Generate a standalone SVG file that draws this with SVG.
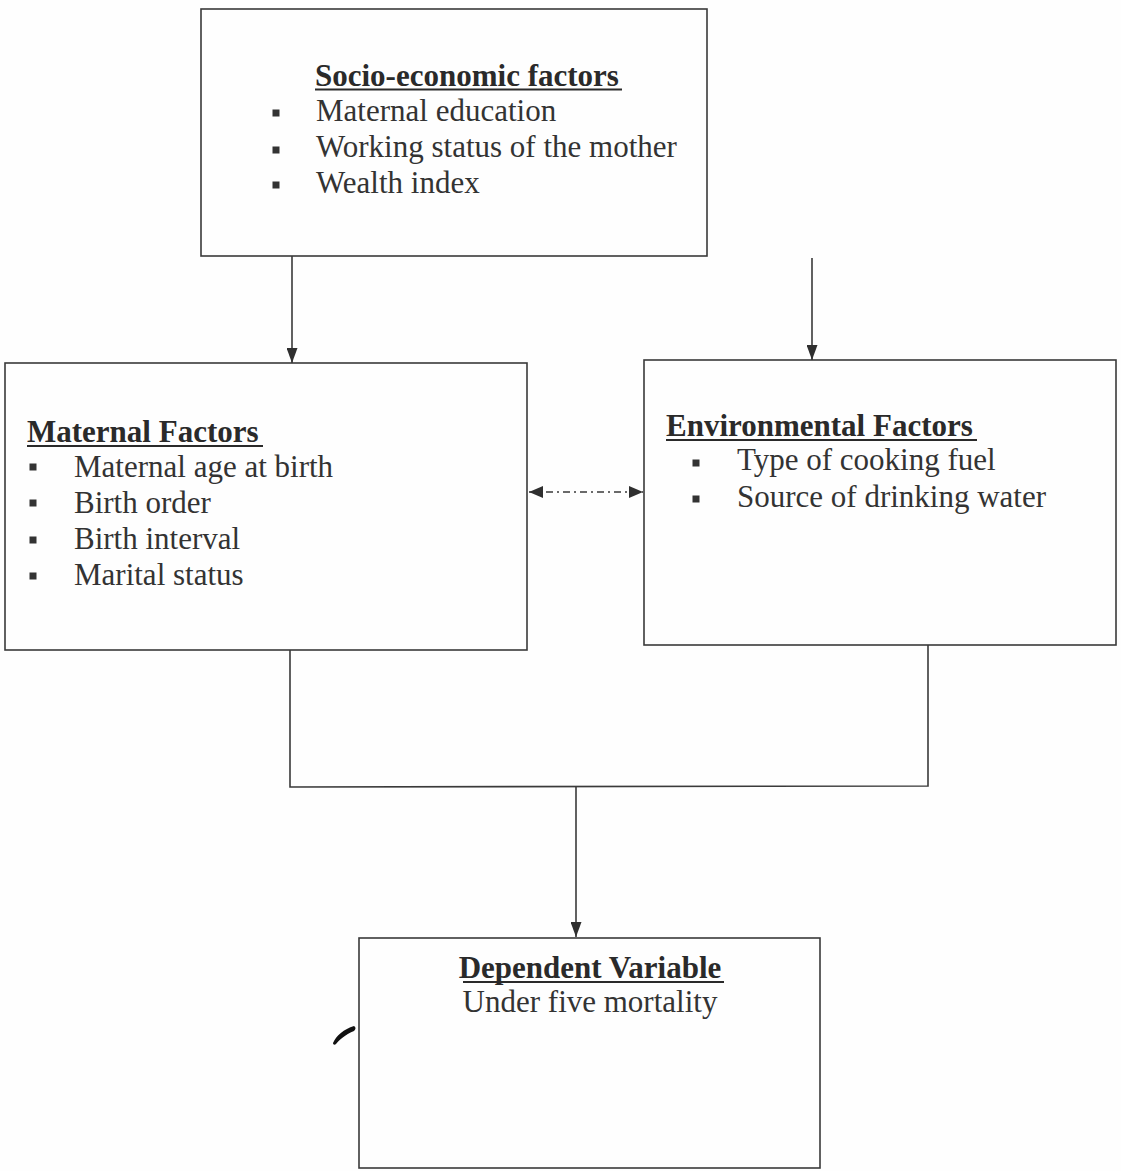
<svg xmlns="http://www.w3.org/2000/svg" width="1121" height="1171" viewBox="0 0 1121 1171">
<defs>
<style>
.box{fill:none;stroke:#3a3a3a;stroke-width:1.6}
.ln{fill:none;stroke:#3a3a3a;stroke-width:1.6}
.h{font-family:"Liberation Serif","Times New Roman",serif;font-size:31px;font-weight:bold;fill:#2a2a2a}
.t{font-family:"Liberation Serif","Times New Roman",serif;font-size:31px;fill:#333}
.ul{stroke:#2a2a2a;stroke-width:2}
.b{fill:#333}
</style>
<marker id="ad" viewBox="0 0 14 12" refX="14" refY="6" markerWidth="14" markerHeight="12" markerUnits="userSpaceOnUse" orient="auto-start-reverse">
<path d="M0,0 L14,6 L0,12 Z" fill="#2f2f2f"/>
</marker>
<marker id="av" viewBox="0 0 15 11" refX="15" refY="5.5" markerWidth="15" markerHeight="11" markerUnits="userSpaceOnUse" orient="auto">
<path d="M0,0 L15,5.5 L0,11 Z" fill="#2f2f2f"/>
</marker>
</defs>
<rect width="1121" height="1171" fill="#fefefe"/>

<g id="socio">
<rect class="box" x="201" y="9" width="506" height="247"/>
<text class="h" x="315" y="86">Socio-economic factors</text>
<line class="ul" x1="315" y1="89.5" x2="622" y2="89.5"/>
<rect class="b" x="272.5" y="109.5" width="7" height="7"/>
<rect class="b" x="272.5" y="146.5" width="7" height="7"/>
<rect class="b" x="272.5" y="181.5" width="7" height="7"/>
<text class="t" x="316" y="121">Maternal education</text>
<text class="t" x="316" y="157">Working status of the mother</text>
<text class="t" x="316" y="193">Wealth index</text>
</g>

<g id="maternal">
<rect class="box" x="5" y="363" width="522" height="287"/>
<text class="h" x="27" y="442">Maternal Factors</text>
<line class="ul" x1="27" y1="446" x2="263" y2="446"/>
<rect class="b" x="29.5" y="463.5" width="7" height="7"/>
<rect class="b" x="29.5" y="499.5" width="7" height="7"/>
<rect class="b" x="29.5" y="536.5" width="7" height="7"/>
<rect class="b" x="29.5" y="572.5" width="7" height="7"/>
<text class="t" x="74" y="477">Maternal age at birth</text>
<text class="t" x="74" y="513">Birth order</text>
<text class="t" x="74" y="549">Birth interval</text>
<text class="t" x="74" y="585">Marital status</text>
</g>

<g id="environmental">
<rect class="box" x="644" y="360" width="472" height="285"/>
<text class="h" x="666" y="436">Environmental Factors</text>
<line class="ul" x1="666" y1="440" x2="977" y2="440"/>
<rect class="b" x="692.5" y="459.5" width="7" height="7"/>
<rect class="b" x="692.5" y="495.5" width="7" height="7"/>
<text class="t" x="737" y="470">Type of cooking fuel</text>
<text class="t" x="737" y="507">Source of drinking water</text>
</g>

<g id="dependent">
<rect class="box" x="359" y="938" width="461" height="230"/>
<text class="h" x="590" y="978" text-anchor="middle">Dependent Variable</text>
<line class="ul" x1="463" y1="982" x2="724" y2="982"/>
<text class="t" x="590" y="1012" text-anchor="middle">Under five mortality</text>
</g>

<g id="connectors">
<line class="ln" x1="292" y1="256" x2="292" y2="363" marker-end="url(#av)"/>
<line class="ln" x1="812" y1="258" x2="812" y2="360" marker-end="url(#av)"/>
<line class="ln" x1="529" y1="492" x2="643" y2="492" stroke-dasharray="7 4 2 4" marker-start="url(#ad)" marker-end="url(#ad)"/>
<polyline class="ln" points="290,650 290,787 928,786 928,645"/>
<line class="ln" x1="576" y1="786" x2="576" y2="937" marker-end="url(#av)"/>
</g>

<path d="M333,1043 C336,1036 344,1029 354,1026 C356,1027 356,1029 354,1031 C346,1034 339,1040 336,1044 C335,1045 333,1045 333,1043 Z" fill="#111"/>
</svg>
